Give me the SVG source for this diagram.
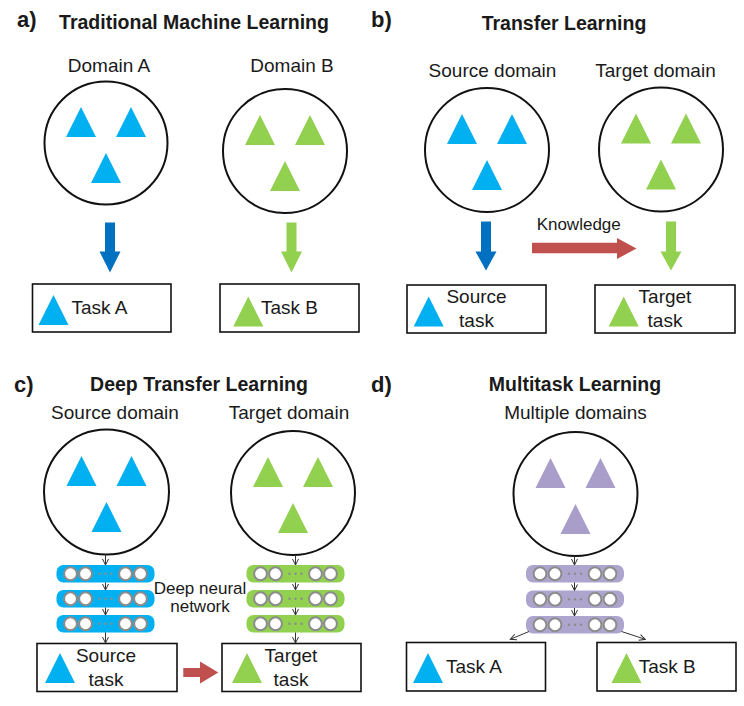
<svg xmlns="http://www.w3.org/2000/svg" width="744" height="706" viewBox="0 0 744 706">
<style>
text{font-family:"Liberation Sans",Arial,sans-serif;fill:#1a1a1a}
.h{font-weight:bold;font-size:19.5px;text-anchor:middle}
.p{font-weight:bold;font-size:22px}
.l{font-size:19px;text-anchor:middle}
.ls{font-size:19px}
.s{font-size:17px;text-anchor:middle}
.dom{fill:#fff;stroke:#111;stroke-width:2}
.box{fill:#fff;stroke:#111;stroke-width:1.6}
.tb{fill:#00B0F0}
.tg{fill:#92D050}
.tp{fill:#A99DC9}
.lb{fill:#00B0F0}
.lg{fill:#92D050}
.lp{fill:#AEA5CF}
.nc{fill:#fff;stroke:#8c8c8c;stroke-width:2}
.dot{fill:#8c8c8c}
.thin{stroke:#333;stroke-width:1;fill:none;marker-end:url(#ah)}
.bb{fill:#0070C0}
.bg{fill:#92D050}
.br{fill:#C0504D}
</style>
<defs>
<path id="tri" d="M0,0 L15,30 L-15,30 Z"/>
<g id="nodes">
<circle class="nc" cx="14" cy="8.75" r="6.4"/>
<circle class="nc" cx="29" cy="8.75" r="6.4"/>
<circle class="nc" cx="69" cy="8.75" r="6.4"/>
<circle class="nc" cx="84" cy="8.75" r="6.4"/>
<circle class="dot" cx="43" cy="8.75" r="1.2"/>
<circle class="dot" cx="49" cy="8.75" r="1.2"/>
<circle class="dot" cx="55" cy="8.75" r="1.2"/>
</g>
<marker id="ah" markerWidth="8" markerHeight="8" refX="7" refY="4" orient="auto" markerUnits="userSpaceOnUse"><path d="M1,1 L7,4 L1,7" fill="none" stroke="#333" stroke-width="1"/></marker>
</defs>

<!-- Titles -->
<g id="titles">
<text class="p" x="17" y="27">a)</text>
<text class="h" x="194" y="29">Traditional Machine Learning</text>
<text class="p" x="371" y="27">b)</text>
<text class="h" x="564" y="30">Transfer Learning</text>
<text class="p" x="14" y="392">c)</text>
<text class="h" x="199" y="391">Deep Transfer Learning</text>
<text class="p" x="371" y="392">d)</text>
<text class="h" x="575" y="391">Multitask Learning</text>
</g>

<!-- Panel a -->
<g id="a-domainA">
<text class="l" x="109" y="72">Domain A</text>
<g transform="translate(106,143)">
<circle class="dom" r="61.5"/>
<use href="#tri" x="-25" y="-36" class="tb"/>
<use href="#tri" x="25" y="-36" class="tb"/>
<use href="#tri" x="0" y="10" class="tb"/>
</g>
</g>
<g id="a-domainB">
<text class="l" x="292" y="72">Domain B</text>
<g transform="translate(285,151)">
<circle class="dom" r="62"/>
<use href="#tri" x="-25" y="-36" class="tg"/>
<use href="#tri" x="25" y="-36" class="tg"/>
<use href="#tri" x="0" y="10" class="tg"/>
</g>
</g>
<g id="a-taskA">
<rect class="box" x="32.5" y="284" width="138.5" height="48"/>
<use href="#tri" x="53.5" y="295" class="tb"/>
<text class="ls" x="71.5" y="313.5">Task A</text>
</g>
<g id="a-taskB">
<rect class="box" x="220" y="284" width="139" height="48"/>
<use href="#tri" x="248.3" y="296.5" class="tg"/>
<text class="ls" x="261" y="313.5">Task B</text>
</g>

<!-- Panel b -->
<g id="b-source">
<text class="l" x="492.5" y="77">Source domain</text>
<g transform="translate(487,150)">
<circle class="dom" r="62"/>
<use href="#tri" x="-25" y="-36" class="tb"/>
<use href="#tri" x="25" y="-36" class="tb"/>
<use href="#tri" x="0" y="10" class="tb"/>
</g>
</g>
<g id="b-target">
<text class="l" x="655.5" y="77">Target domain</text>
<g transform="translate(661,149.5)">
<circle class="dom" r="62"/>
<use href="#tri" x="-25" y="-36" class="tg"/>
<use href="#tri" x="25" y="-36" class="tg"/>
<use href="#tri" x="0" y="10" class="tg"/>
</g>
</g>
<g id="b-sourcetask">
<rect class="box" x="407" y="285" width="139" height="48"/>
<use href="#tri" x="428.7" y="296.5" class="tb"/>
<text class="l" x="476.5" y="303">Source</text>
<text class="l" x="476.5" y="327">task</text>
</g>
<g id="b-targettask">
<rect class="box" x="595" y="285" width="140" height="48"/>
<use href="#tri" x="623.7" y="296.5" class="tg"/>
<text class="l" x="665" y="303">Target</text>
<text class="l" x="665" y="327">task</text>
</g>

<!-- Panel c -->
<g id="c-source">
<text class="l" x="115" y="418.5">Source domain</text>
<g transform="translate(106.5,492)">
<circle class="dom" r="62.5"/>
<use href="#tri" x="-25" y="-36" class="tb"/>
<use href="#tri" x="25" y="-36" class="tb"/>
<use href="#tri" x="0" y="10" class="tb"/>
</g>
</g>
<g id="c-target">
<text class="l" x="289" y="418.5">Target domain</text>
<g transform="translate(293,493)">
<circle class="dom" r="62"/>
<use href="#tri" x="-25" y="-36" class="tg"/>
<use href="#tri" x="25" y="-36" class="tg"/>
<use href="#tri" x="0" y="10" class="tg"/>
</g>
</g>
<g id="c-source-net">
<rect class="lb" x="56.5" y="565" width="98" height="17.5" rx="7"/>
<use href="#nodes" x="56.5" y="565"/>
<rect class="lb" x="56.5" y="590" width="98" height="17.5" rx="7"/>
<use href="#nodes" x="56.5" y="590"/>
<rect class="lb" x="56.5" y="615" width="98" height="17.5" rx="7"/>
<use href="#nodes" x="56.5" y="615"/>
</g>
<g id="c-target-net">
<rect class="lg" x="246.5" y="565" width="98" height="17.5" rx="7"/>
<use href="#nodes" x="246.5" y="565"/>
<rect class="lg" x="246.5" y="590" width="98" height="17.5" rx="7"/>
<use href="#nodes" x="246.5" y="590"/>
<rect class="lg" x="246.5" y="615" width="98" height="17.5" rx="7"/>
<use href="#nodes" x="246.5" y="615"/>
</g>
<g id="c-dnn-label">
<text class="s" x="200" y="593.5">Deep neural</text>
<text class="s" x="200" y="612">network</text>
</g>
<g id="c-sourcetask">
<rect class="box" x="37" y="643.5" width="140" height="48"/>
<use href="#tri" x="60" y="653" class="tb"/>
<text class="l" x="106" y="662">Source</text>
<text class="l" x="106" y="685.5">task</text>
</g>
<g id="c-targettask">
<rect class="box" x="222" y="643.5" width="139" height="48"/>
<use href="#tri" x="247" y="653" class="tg"/>
<text class="l" x="291" y="662">Target</text>
<text class="l" x="291" y="685.5">task</text>
</g>

<!-- Panel d -->
<g id="d-domain">
<text class="l" x="575.5" y="418.5">Multiple domains</text>
<g transform="translate(575.5,494)">
<circle class="dom" r="62"/>
<use href="#tri" x="-25" y="-36" class="tp"/>
<use href="#tri" x="25" y="-36" class="tp"/>
<use href="#tri" x="0" y="10" class="tp"/>
</g>
</g>
<g id="d-net">
<rect class="lp" x="526" y="565" width="98" height="17.5" rx="7"/>
<use href="#nodes" x="526" y="565"/>
<rect class="lp" x="526" y="590.5" width="98" height="17.5" rx="7"/>
<use href="#nodes" x="526" y="590.5"/>
<rect class="lp" x="526" y="616" width="98" height="17.5" rx="7"/>
<use href="#nodes" x="526" y="616"/>
</g>
<g id="d-taskA">
<rect class="box" x="406.5" y="642.5" width="139" height="48.5"/>
<use href="#tri" x="428" y="653" class="tb"/>
<text class="ls" x="446" y="673">Task A</text>
</g>
<g id="d-taskB">
<rect class="box" x="597" y="642.5" width="139" height="48.5"/>
<use href="#tri" x="626.5" y="653" class="tg"/>
<text class="ls" x="638.7" y="673">Task B</text>
</g>

<!-- Connectors -->
<g id="connectors">
<polygon class="bb" points="105,222.5 115,222.5 115,251.5 120.5,251.5 110,272.5 99.5,251.5 105,251.5"/>
<polygon class="bg" points="286.5,222.5 296.5,222.5 296.5,251.5 302,251.5 291.5,272.5 281,251.5 286.5,251.5"/>
<polygon class="bb" points="481,221.5 491,221.5 491,251.5 496.5,251.5 486,270.5 475.5,251.5 481,251.5"/>
<polygon class="bg" points="666,221.5 676,221.5 676,251.5 681.5,251.5 671,270.5 660.5,251.5 666,251.5"/>
<polygon class="br" points="532,242.7 617,242.7 617,238 636.5,248.5 617,259 617,253.3 532,253.3"/>
<text class="s" x="578.7" y="229.5">Knowledge</text>
<polygon class="br" points="183.3,668 200,668 200,661.5 218.3,672.5 200,683.5 200,677 183.3,677"/>
<line class="thin" x1="105.5" y1="554.5" x2="105.5" y2="565"/>
<line class="thin" x1="105.5" y1="582.5" x2="105.5" y2="590"/>
<line class="thin" x1="105.5" y1="607.5" x2="105.5" y2="615"/>
<line class="thin" x1="105.5" y1="632.5" x2="105.5" y2="643"/>
<line class="thin" x1="295.5" y1="555" x2="295.5" y2="565"/>
<line class="thin" x1="295.5" y1="582.5" x2="295.5" y2="590"/>
<line class="thin" x1="295.5" y1="607.5" x2="295.5" y2="615"/>
<line class="thin" x1="295.5" y1="632.5" x2="295.5" y2="643"/>
<line class="thin" x1="574.5" y1="556" x2="574.5" y2="565"/>
<line class="thin" x1="574.5" y1="582.5" x2="574.5" y2="590.5"/>
<line class="thin" x1="574.5" y1="608" x2="574.5" y2="616"/>
<line class="thin" x1="529" y1="631.5" x2="510.3" y2="639.3"/>
<line class="thin" x1="621.5" y1="631.5" x2="645.3" y2="639.3"/>
</g>
</svg>
